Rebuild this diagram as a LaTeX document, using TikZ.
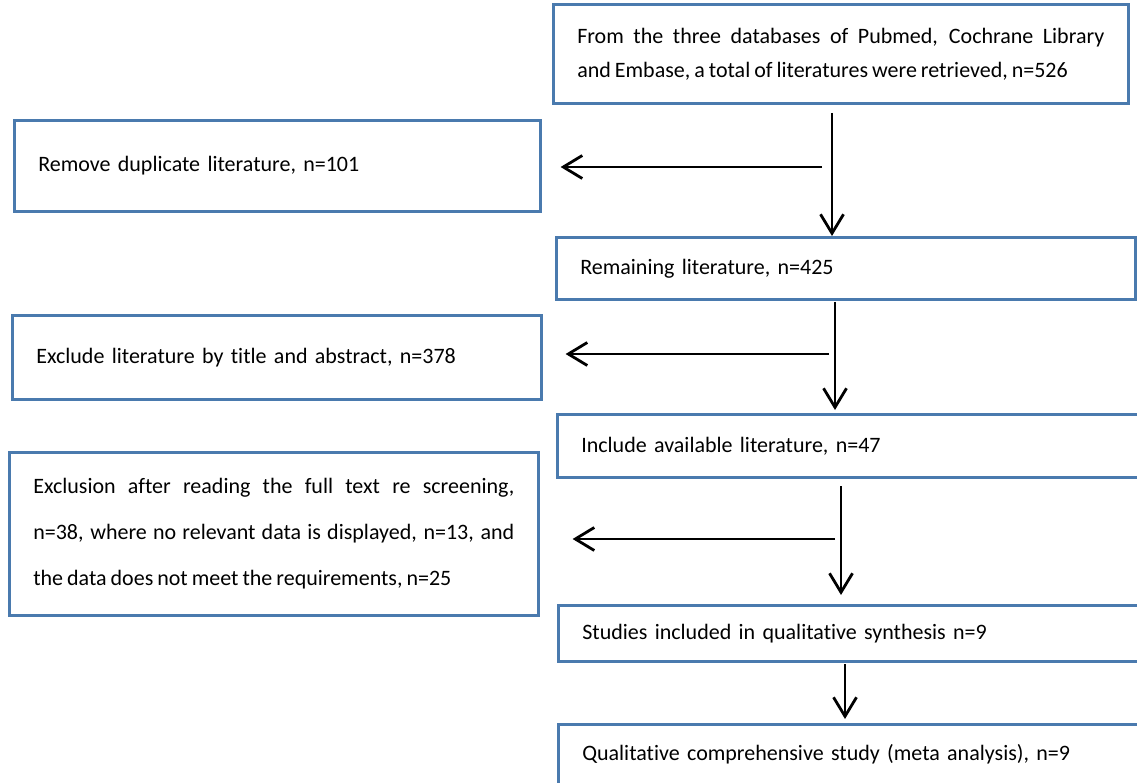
\documentclass[tikz,border=0pt]{standalone}
\usepackage{fontspec}
\setmainfont{Carlito}[Ligatures={NoCommon},WordSpace=0.8]
\usepackage{xcolor}
\usetikzlibrary{arrows.meta,positioning}
\definecolor{boxblue}{HTML}{4A7AAE}
\tikzset{
  stagebox/.style={rectangle,draw=boxblue,line width=2.6pt,anchor=north west,
                   inner xsep=24pt,inner ysep=0pt,align=left,
                   font=\fontsize{22}{34}\selectfont,text=black},
  flow/.style={-{Straight Barb[length=19pt,width=23pt]},line width=2.8pt,draw=black},
}

\begin{document}
\begin{tikzpicture}[x=1pt,y=-1pt]
\useasboundingbox (0,0) rectangle (1137,783);
% right column
\node[stagebox,text width=527pt,minimum height=99pt,align=justify] (src) at (552,3)
  {From the three databases of Pubmed, Cochrane Library\linebreak and Embase, a total of literatures were retrieved, n=526};
\node[stagebox,text width=531pt,minimum height=62pt] (remain) at (555,236)
  {Remaining literature, n=425};
\node[stagebox,text width=552pt,minimum height=63pt] (incl) at (556,413)
  {Include available literature, n=47};
\node[stagebox,text width=552pt,minimum height=56pt] (synth) at (557,604)
  {Studies included in qualitative synthesis n=9};
\node[stagebox,text width=552pt,minimum height=60pt] (meta) at (557,723)
  {Qualitative comprehensive study (meta analysis), n=9};
% left column
\node[stagebox,text width=478pt,minimum height=91pt] (dup) at (13,119)
  {Remove duplicate literature, n=101};
\node[stagebox,text width=481pt,minimum height=84pt] (title) at (11,314)
  {Exclude literature by title and abstract, n=378};
\node[stagebox,text width=481pt,minimum height=163pt,align=justify,
      font=\fontsize{22}{46}\selectfont] (full) at (8,451)
  {Exclusion after reading the full text re screening,\linebreak n=38, where no relevant data is displayed, n=13, and\linebreak the data does not meet the requirements, n=25};

% arrows
\coordinate (d1) at (832,113);
\coordinate (s1) at (822,167);
\draw[flow] (d1) -- (d1 |- remain.north);
\draw[flow] (s1) -- ([xshift=19pt]dup.east |- s1);

\coordinate (d2) at (835,302);
\coordinate (s2) at (829,354);
\draw[flow] (d2) -- ([yshift=3pt]d2 |- incl.north);
\draw[flow] (s2) -- ([xshift=23pt]title.east |- s2);

\coordinate (d3) at (841,486);
\coordinate (s3) at (835,539);
\draw[flow] (d3) -- ([yshift=9pt]d3 |- synth.north);
\draw[flow] (s3) -- ([xshift=33pt]full.east |- s3);

\coordinate (d4) at (845,664);
\draw[flow] (d4) -- ([yshift=4pt]d4 |- meta.north);
\end{tikzpicture}
\end{document}
